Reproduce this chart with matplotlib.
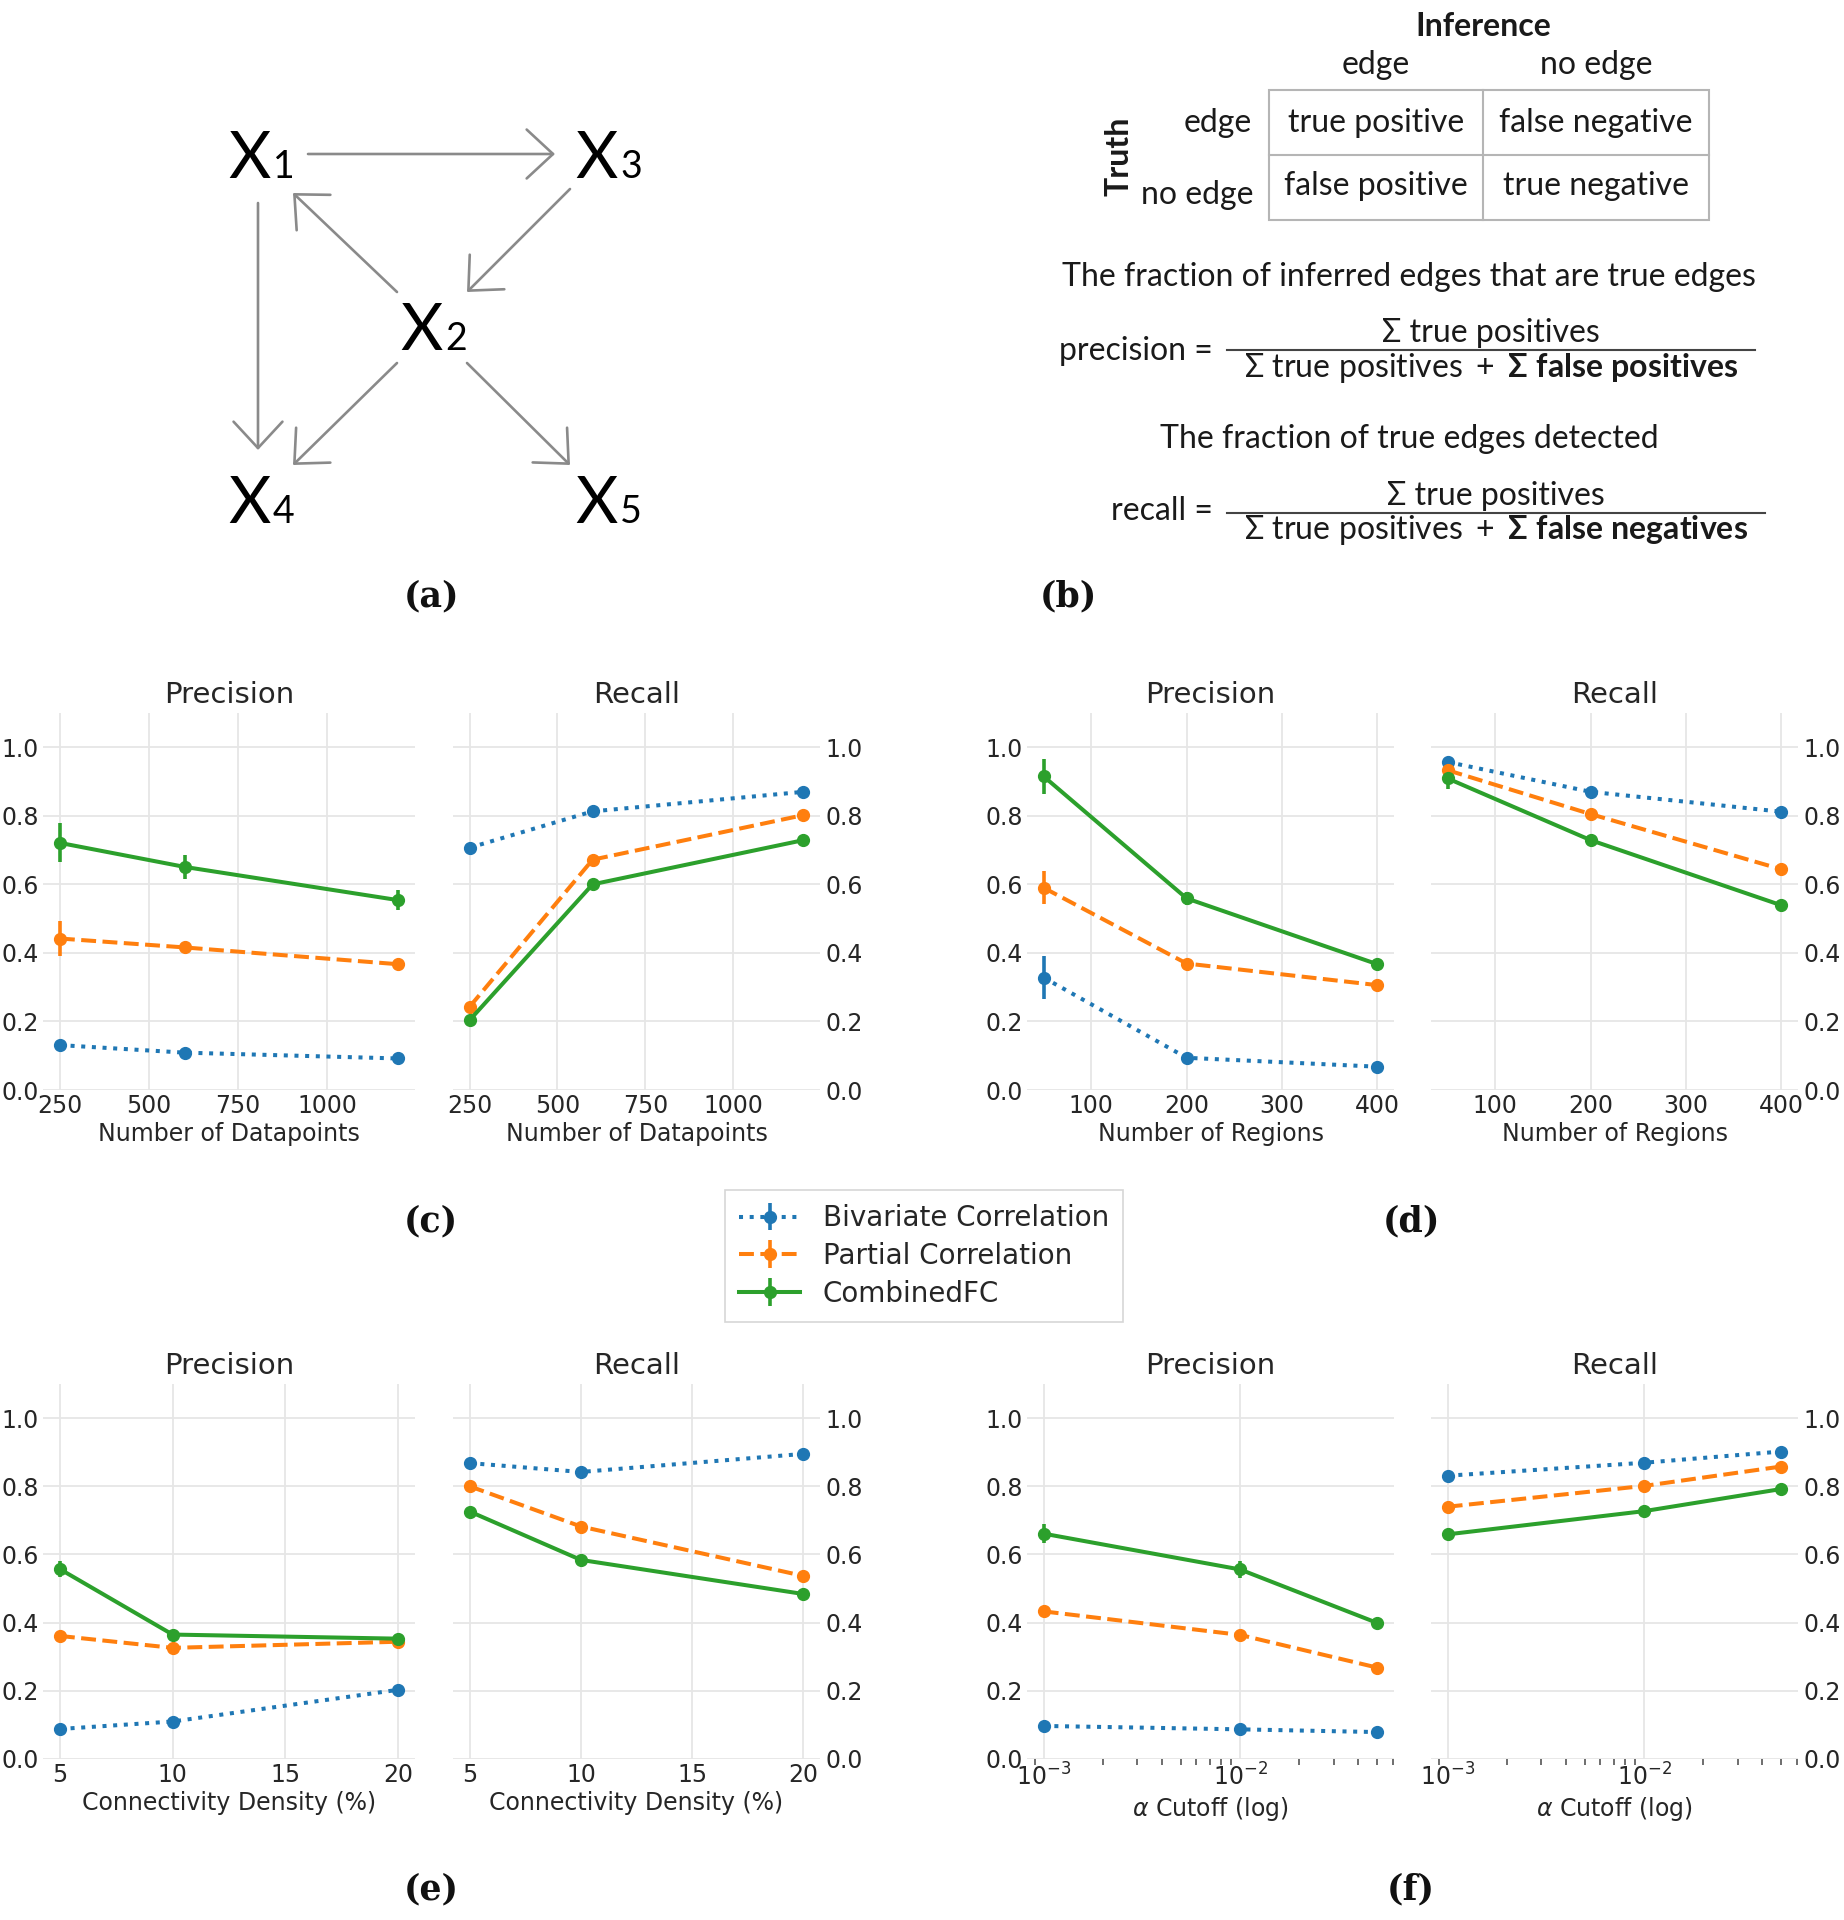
import matplotlib
matplotlib.use('Agg')
import matplotlib.pyplot as plt
from matplotlib.patches import FancyArrowPatch, Rectangle
import numpy as np

# ---- data ----
methods = ['Bivariate Correlation', 'Partial Correlation', 'CombinedFC']
colors = ['#1f77b4', '#ff7f0e', '#2ca02c']
styles = [':', '--', '-']

datapoints = [250, 600, 1200]
regions = [50, 200, 400]
density = [5, 10, 20]
alpha_cut = [0.001, 0.01, 0.05]

# (c) number of datapoints
c_prec = [[0.131, 0.109, 0.092], [0.442, 0.416, 0.367], [0.721, 0.651, 0.554]]
c_prec_err = [[0.008, 0.006, 0.005], [0.05, 0.012, 0.01], [0.057, 0.034, 0.03]]
c_rec = [[0.707, 0.813, 0.870], [0.243, 0.672, 0.802], [0.204, 0.600, 0.729]]
c_rec_err = [[0.006, 0.005, 0.004], [0.012, 0.01, 0.006], [0.01, 0.008, 0.006]]

# (d) number of regions
d_prec = [[0.328, 0.094, 0.068], [0.590, 0.369, 0.306], [0.915, 0.559, 0.367]]
d_prec_err = [[0.062, 0.008, 0.005], [0.048, 0.01, 0.008], [0.05, 0.02, 0.01]]
d_rec = [[0.957, 0.870, 0.812], [0.933, 0.805, 0.644], [0.909, 0.729, 0.539]]
d_rec_err = [[0.015, 0.005, 0.004], [0.015, 0.006, 0.005], [0.03, 0.006, 0.005]]

# (e) connectivity density
e_prec = [[0.088, 0.110, 0.203], [0.361, 0.326, 0.344], [0.557, 0.365, 0.353]]
e_prec_err = [[0.005, 0.005, 0.006], [0.01, 0.008, 0.008], [0.024, 0.01, 0.008]]
e_rec = [[0.868, 0.842, 0.895], [0.800, 0.682, 0.537], [0.726, 0.584, 0.484]]
e_rec_err = [[0.005, 0.005, 0.004], [0.008, 0.008, 0.006], [0.01, 0.008, 0.006]]

# (f) alpha cutoff
f_prec = [[0.097, 0.087, 0.079], [0.433, 0.364, 0.268], [0.661, 0.556, 0.399]]
f_prec_err = [[0.006, 0.005, 0.005], [0.01, 0.01, 0.008], [0.027, 0.025, 0.012]]
f_rec = [[0.831, 0.869, 0.902], [0.740, 0.801, 0.858], [0.659, 0.727, 0.792]]
f_rec_err = [[0.005, 0.005, 0.004], [0.006, 0.006, 0.005], [0.008, 0.006, 0.006]]

W, H = 1844, 1920
TXT = '#262626'

plt.rcParams['font.family'] = 'DejaVu Sans'
plt.rcParams['mathtext.fontset'] = 'dejavusans'
plt.rcParams['mathtext.rm'] = 'Lato'
plt.rcParams['mathtext.bf'] = 'Lato:bold'
plt.rcParams['mathtext.it'] = 'Lato:italic'
plt.rcParams['mathtext.sf'] = 'Lato'

fig = plt.figure(figsize=(W / 100, H / 100), dpi=100)

# overlay in pixel coordinates for the diagram panels
ov = fig.add_axes([0, 0, 1, 1], zorder=-1)
ov.set_xlim(0, W)
ov.set_ylim(H, 0)
ov.axis('off')

# ---- (a) graph ----
nodes = {1: (228, 178), 2: (400, 350), 3: (575, 178), 4: (228, 523), 5: (575, 523)}
for k, (nx, ny) in nodes.items():
    ov.text(nx, ny, 'X', fontsize=47, family='Lato', ha='left', va='baseline', color='black')
    ov.text(nx + 45, ny, str(k), fontsize=27, family='Lato', ha='left', va='baseline', color='black')

edges = [((308, 154), (555, 154)),
         ((258, 203), (258, 450)),
         ((397, 292), (293, 193)),
         ((570, 189), (467, 292)),
         ((397, 363), (293, 465)),
         ((467, 363), (570, 465))]
for a, b in edges:
    ov.add_patch(FancyArrowPatch(a, b, arrowstyle='->,head_length=0.95,head_width=0.88',
                                 mutation_scale=20, color='#8a8a8a', lw=1.9,
                                 shrinkA=0, shrinkB=0))

# ---- (b) confusion table and formulas ----
bfont = dict(family='Lato', fontsize=23, color='#1a1a1a')
ov.text(1483, 26, 'Inference', ha='center', va='center', fontweight='bold', **bfont)
ov.text(1376, 65, 'edge', ha='center', va='center', **bfont)
ov.text(1596, 65, 'no edge', ha='center', va='center', **bfont)
ov.text(1119, 156, 'Truth', ha='center', va='center', rotation=90, fontweight='bold', **bfont)
ov.text(1252, 123, 'edge', ha='right', va='center', **bfont)
ov.text(1253, 195, 'no edge', ha='right', va='center', **bfont)

ov.add_patch(Rectangle((1269, 90), 440, 130, fill=False, ec='#b5b5b5', lw=1.5))
ov.plot([1483, 1483], [90, 220], color='#b5b5b5', lw=1.5)
ov.plot([1269, 1709], [155, 155], color='#b5b5b5', lw=1.5)
cells = [('true positive', 1376, 123), ('false negative', 1596, 123),
         ('false positive', 1376, 186), ('true negative', 1596, 186)]
for s, cx, cy in cells:
    ov.text(cx, cy, s, ha='center', va='center', **bfont)

ov.text(1409, 277, 'The fraction of inferred edges that are true edges', ha='center', va='center', **bfont)
ov.text(1213, 351, 'precision =', ha='right', va='center', **bfont)
ov.text(1491, 333, 'Σ true positives', ha='center', va='center', **bfont)
ov.plot([1227, 1755], [350, 350], color='#444444', lw=1.5)
ov.text(1491, 368, r'$\Sigma\ \mathrm{true\ positives}\ +\ \mathbf{\Sigma\ false\ positives}$',
        ha='center', va='center', math_fontfamily='custom', fontsize=23, color='#1a1a1a')

ov.text(1409, 439, 'The fraction of true edges detected', ha='center', va='center', **bfont)
ov.text(1213, 511, 'recall =', ha='right', va='center', **bfont)
ov.text(1496, 496, 'Σ true positives', ha='center', va='center', **bfont)
ov.plot([1227, 1765], [513, 513], color='#444444', lw=1.5)
ov.text(1496, 530, r'$\Sigma\ \mathrm{true\ positives}\ +\ \mathbf{\Sigma\ false\ negatives}$',
        ha='center', va='center', math_fontfamily='custom', fontsize=23, color='#1a1a1a')

# panel letters
for s, lx, ly in [('(a)', 431, 596), ('(b)', 1068, 596), ('(c)', 431, 1221),
                  ('(d)', 1411, 1221), ('(e)', 431, 1889), ('(f)', 1411, 1889)]:
    ov.text(lx, ly, s, ha='center', va='center', family='DejaVu Serif',
            fontweight='bold', fontsize=25, color='#111111')


# ---- line charts ----
def rect(x0, x1, ytop, ybot):
    return [x0 / W, 1 - ybot / H, (x1 - x0) / W, (ybot - ytop) / H]


def draw(ax, x, vals, errs, title, xlabel, right=False, logx=False, xticks=None):
    for i in range(3):
        ax.errorbar(x, vals[i], yerr=errs[i], color=colors[i], ls=styles[i], lw=2.9,
                    marker='o', ms=8.5, elinewidth=2.6, capsize=0, label=methods[i])
    if logx:
        ax.set_xscale('log')
        ax.tick_params(axis='x', which='minor', length=4, width=1.2, color='#555555')
    elif xticks is not None:
        ax.set_xticks(xticks)
    ax.set_ylim(0, 1.1)
    ax.set_yticks([0, 0.2, 0.4, 0.6, 0.8, 1.0])
    ax.set_yticklabels(['0.0', '0.2', '0.4', '0.6', '0.8', '1.0'])
    for sp in ax.spines.values():
        sp.set_visible(False)
    ax.grid(True, which='major', color='#e6e6e6', lw=1.3)
    ax.set_axisbelow(True)
    ax.tick_params(axis='both', which='major', length=0, labelsize=17, labelcolor=TXT, pad=3)
    if right:
        ax.yaxis.tick_right()
        ax.tick_params(axis='y', which='major', length=0, pad=4)
    ax.set_title(title, fontsize=21, color=TXT, pad=7)
    ax.set_xlabel(xlabel, fontsize=17, color=TXT, labelpad=3)


cols = [(43, 415), (453, 820), (1027, 1394), (1431, 1798)]
row1 = (713, 1090)
row2 = (1384, 1759)

panels = [
    (cols[0], cols[1], row1, datapoints, c_prec, c_prec_err, c_rec, c_rec_err,
     'Number of Datapoints', False, [250, 500, 750, 1000]),
    (cols[2], cols[3], row1, regions, d_prec, d_prec_err, d_rec, d_rec_err,
     'Number of Regions', False, [100, 200, 300, 400]),
    (cols[0], cols[1], row2, density, e_prec, e_prec_err, e_rec, e_rec_err,
     'Connectivity Density (%)', False, [5, 10, 15, 20]),
    (cols[2], cols[3], row2, alpha_cut, f_prec, f_prec_err, f_rec, f_rec_err,
     r'$\alpha$ Cutoff (log)', True, None),
]

first = None
for cp, cr, row, x, p, pe, r, re_, xl, lg, xt in panels:
    axp = fig.add_axes(rect(cp[0], cp[1], row[0], row[1]))
    axr = fig.add_axes(rect(cr[0], cr[1], row[0], row[1]))
    draw(axp, x, p, pe, 'Precision', xl, logx=lg, xticks=xt)
    draw(axr, x, r, re_, 'Recall', xl, right=True, logx=lg, xticks=xt)
    if first is None:
        first = axp

handles, labels = first.get_legend_handles_labels()
leg = fig.legend(handles, labels, loc='center', bbox_to_anchor=(924 / W, 1 - 1256 / H),
                 fontsize=20, frameon=True, fancybox=False, edgecolor='#cccccc',
                 handlelength=2.2, labelspacing=0.35, borderpad=0.5)
leg.get_frame().set_linewidth(1.2)
for t in leg.get_texts():
    t.set_color(TXT)

fig.savefig('out.png', dpi=100, facecolor='white')
